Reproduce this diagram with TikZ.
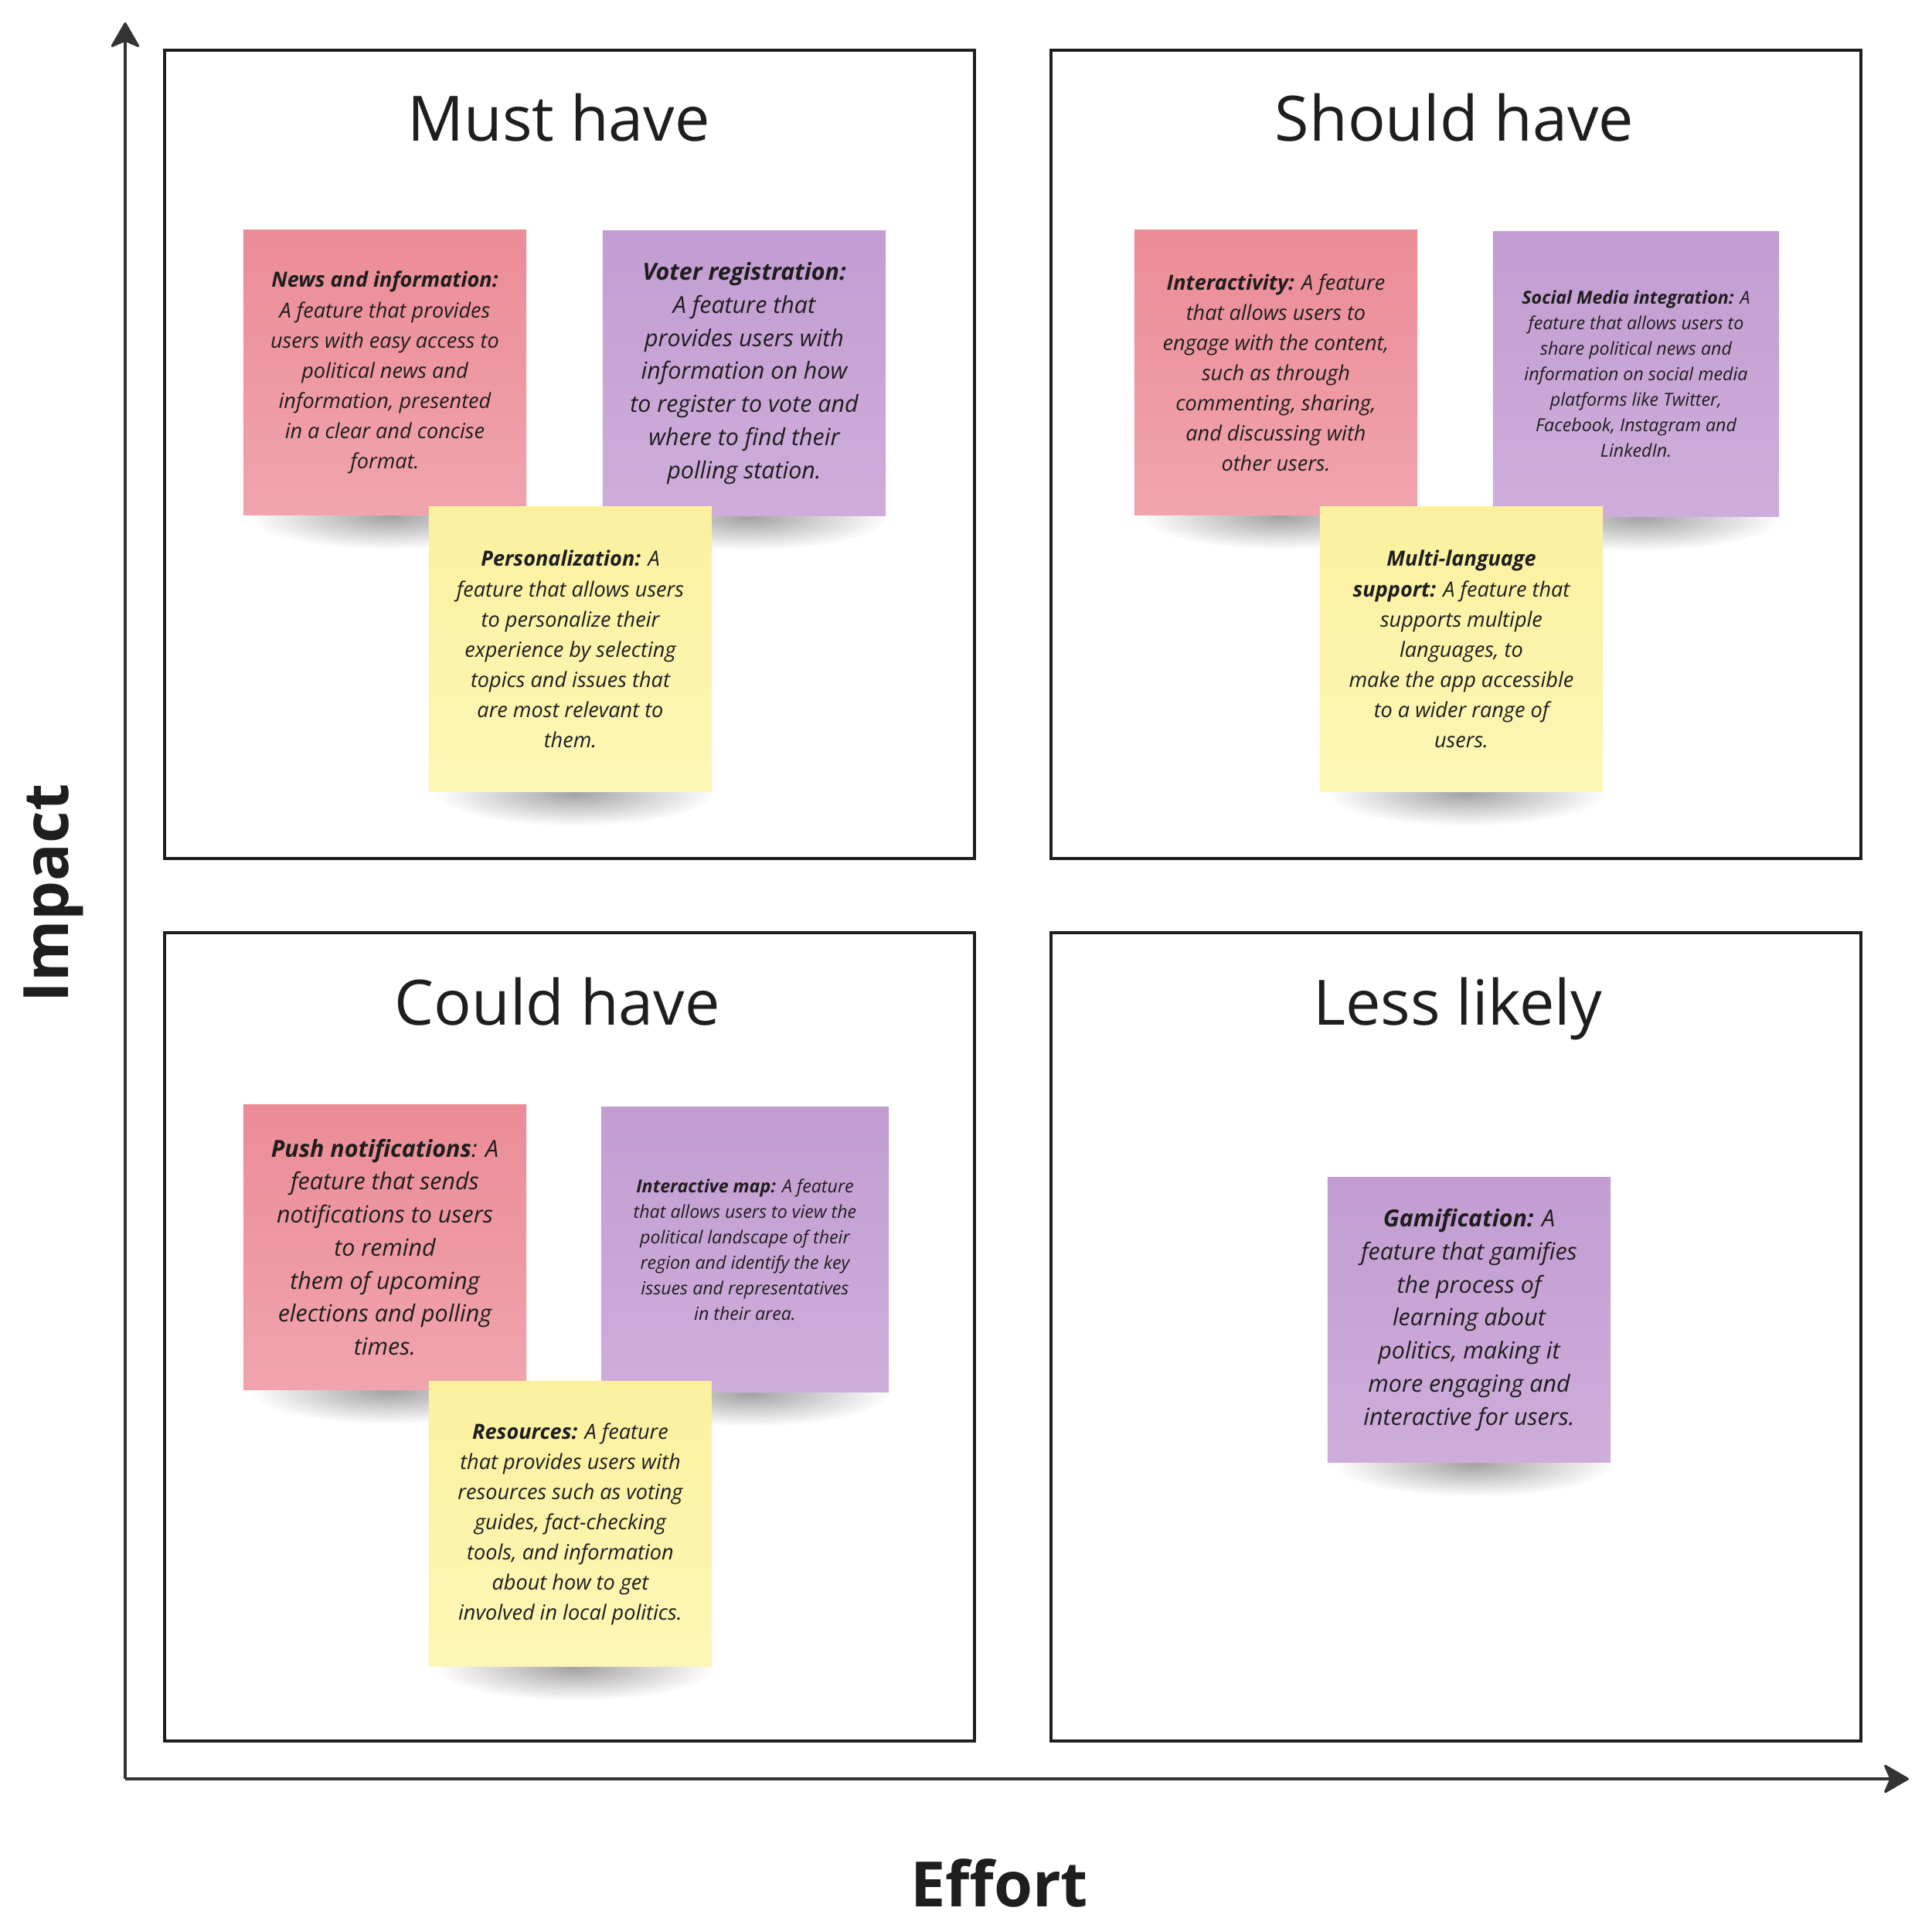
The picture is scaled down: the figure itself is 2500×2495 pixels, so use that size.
\documentclass[tikz,border=0pt]{standalone}
\usepackage{fontspec}
\setmainfont{Open Sans}
\usepackage{tikz}
\usetikzlibrary{positioning,arrows.meta,calc,fadings}
\usepackage{xcolor}

\definecolor{inkcol}{HTML}{1E1E1E}
\definecolor{axiscol}{HTML}{333333}
\definecolor{pinktop}{HTML}{EB8C96}
\definecolor{pinkbot}{HTML}{F1A4AD}
\definecolor{purptop}{HTML}{C39DD2}
\definecolor{purpbot}{HTML}{CEADDA}
\definecolor{yelltop}{HTML}{FAF09E}
\definecolor{yellbot}{HTML}{FDF7B6}

\pgfdeclarelayer{background}
\pgfsetlayers{background,main}
\tikzfading[name=shadowfade,inner color=transparent!0,outer color=transparent!100]

\begin{document}
\begin{tikzpicture}[x=0.01cm,y=-0.01cm,>={Stealth[length=10pt,width=11.5pt,inset=2.5pt,round]},
  quadbox/.style={draw=inkcol,line width=1.15pt,minimum width=10.48cm,minimum height=10.46cm},
  quadtitle/.style={anchor=base,text=inkcol,font=\fontsize{23}{28}\selectfont},
  axislabel/.style={text=inkcol,font=\fontsize{23}{28}\selectfont\bfseries},
  note/.style={minimum width=3.66cm,minimum height=3.68cm,inner sep=0pt,align=center,text=inkcol},
  pinknote/.style={note,top color=pinktop,bottom color=pinkbot},
  purpnote/.style={note,top color=purptop,bottom color=purpbot},
  yellnote/.style={note,top color=yelltop,bottom color=yellbot},
  bigtxt/.style={font=\fontsize{8.65}{12.15}\selectfont\itshape},
  midtxt/.style={font=\fontsize{7.7}{11.1}\selectfont\itshape},
  smalltxt/.style={font=\fontsize{6.6}{9.4}\selectfont\itshape},
  noteshadow/.style={fill=black,opacity=0.36,path fading=shadowfade}]

\begin{pgfonlayer}{background}
\fill[white] (0,0) rectangle (2500,2495);
\end{pgfonlayer}
\useasboundingbox (0,0) rectangle (2500,2495);

% quadrants
\node[quadbox] (must) at (737,588) {};
\node[quadbox] (should) at (1884,588) {};
\node[quadbox] (could) at (737,1730) {};
\node[quadbox] (less) at (1884,1730) {};

\node[quadtitle] (mustT) at (723,183) {Must have};
\node[quadtitle] (shouldT) at (1882,183) {Should have};
\node[quadtitle] (couldT) at (721,1327) {Could have};
\node[quadtitle] (lessT) at (1886,1327) {Less likely};

% axes
\coordinate (origin) at (162,2302);
\coordinate (ytip) at (162,29);
\coordinate (xtip) at (2470,2302);
\draw[->,draw=axiscol,fill=axiscol,line width=0.9pt] (origin) -- (ytip);
\draw[->,draw=axiscol,fill=axiscol,line width=0.9pt] (origin) -- (xtip);
\node[axislabel,rotate=90] (impact) at (69,1156) {Impact};
\node[axislabel] (effort) at (1293,2437) {Effort};

% must have
\node[pinknote,midtxt] (news) at (498,482) {\textbf{News and information:}\\A feature that provides\\users with easy access to\\political news and\\information, presented\\in a clear and concise\\format.};
\node[purpnote,bigtxt] (voter) at (963,483) {\textbf{Voter registration:}\\A feature that\\provides users with\\information on how\\to register to vote and\\where to find their\\polling station.};
\node[yellnote,midtxt] (personal) at (738,840) {\textbf{Personalization:} A\\feature that allows users\\to personalize their\\experience by selecting\\topics and issues that\\are most relevant to\\them.};

% should have
\node[pinknote,midtxt] (interact) at (1651,482) {\textbf{Interactivity:} A feature\\that allows users to\\engage with the content,\\such as through\\commenting, sharing,\\and discussing with\\other users.};
\node[purpnote,smalltxt,minimum width=3.7cm] (social) at (2117,484) {\textbf{Social Media integration:} A\\feature that allows users to\\share political news and\\information on social media\\platforms like Twitter,\\Facebook, Instagram and\\LinkedIn.};
\node[yellnote,midtxt] (multi) at (1891,840) {\textbf{Multi-language}\\\textbf{support:} A feature that\\supports multiple\\languages, to\\make the app accessible\\to a wider range of\\users.};

% could have
\node[pinknote,bigtxt] (push) at (498,1614) {\textbf{Push notifications}: A\\feature that sends\\notifications to users\\to remind\\them of upcoming\\elections and polling\\times.};
\node[purpnote,smalltxt,minimum width=3.72cm] (map) at (964,1617) {\textbf{Interactive map:} A feature\\that allows users to view the\\political landscape of their\\region and identify the key\\issues and representatives\\in their area.};
\node[yellnote,midtxt] (resources) at (738,1972) {\textbf{Resources:} A feature\\that provides users with\\resources such as voting\\guides, fact-checking\\tools, and information\\about how to get\\involved in local politics.};

% less likely
\node[purpnote,bigtxt] (gamify) at (1901,1708) {\textbf{Gamification:} A\\feature that gamifies\\the process of\\learning about\\politics, making it\\more engaging and\\interactive for users.};

\begin{pgfonlayer}{background}
\foreach \n in {news,voter,personal,interact,social,multi,push,map,resources,gamify}
  \fill[noteshadow] ($(\n.south)+(6,2)$) ellipse [x radius=1.8cm,y radius=0.42cm];
\end{pgfonlayer}
\end{tikzpicture}
\end{document}
